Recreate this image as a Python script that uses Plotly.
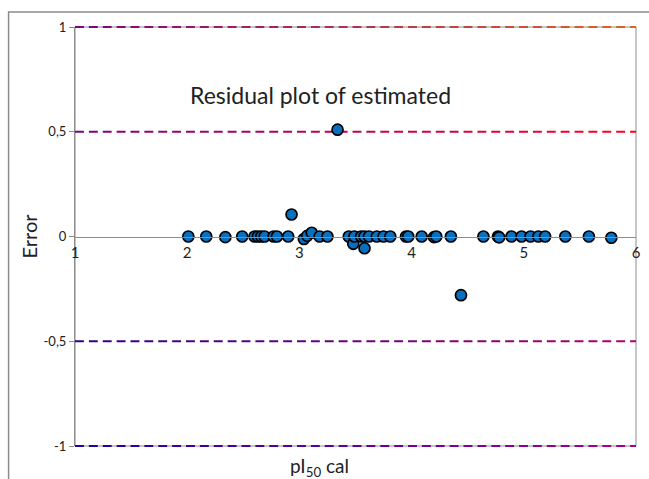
import numpy as np
import plotly.graph_objects as go

# pI50 calculated values and residual errors
pi50_cal = [2.01, 2.17, 2.34, 2.49, 2.60, 2.63, 2.66, 2.69, 2.77, 2.80,
            2.90, 2.93, 3.04, 3.07, 3.11, 3.18, 3.25, 3.34, 3.44, 3.48,
            3.49, 3.55, 3.58, 3.58, 3.62, 3.69, 3.75, 3.81, 3.95, 3.97,
            4.09, 4.20, 4.22, 4.35, 4.44, 4.64, 4.77, 4.78, 4.89, 4.98,
            5.06, 5.13, 5.19, 5.37, 5.58, 5.78]
error = [0.000, 0.000, -0.003, 0.000, 0.000, 0.000, 0.000, 0.000, 0.000, 0.000,
         0.000, 0.105, -0.012, 0.003, 0.018, 0.000, 0.000, 0.510, 0.000, -0.035,
         0.000, 0.000, 0.000, -0.056, 0.000, 0.000, 0.000, 0.000, 0.000, 0.000,
         0.000, -0.003, 0.000, 0.000, -0.280, 0.000, 0.000, -0.004, 0.000, 0.000,
         0.000, 0.000, 0.000, 0.000, 0.000, -0.006]

x_ticks = [1, 2, 3, 4, 5, 6]
y_ticks = [1, 0.5, 0, -0.5, -1]
y_tick_text = ["1", "0,5", "0", "-0,5", "-1"]

# Limit lines with their left/right colour ends
limit_levels = [1, 0.5, -0.5, -1]
limit_colors = [((128, 0, 128), (225, 100, 30)),
                ((128, 0, 128), (255, 0, 30)),
                ((45, 0, 140), (175, 0, 110)),
                ((30, 0, 160), (165, 0, 140))]

X_RANGE = [1, 6]
Y_RANGE = [-1, 1]
W, H = 649, 479
M_L, M_R, M_T, M_B = 75, 8, 27, 33
PLOT_W = W - M_L - M_R
PLOT_H = H - M_T - M_B
DASH_PX, GAP_PX = 9, 5

fig = go.Figure()

fig.add_trace(go.Scatter(
    x=pi50_cal, y=error, mode="markers",
    marker=dict(size=11, color="#0870c0", line=dict(color="#000000", width=1.7)),
    showlegend=False, hoverinfo="x+y",
))

shapes = []
# Plot area frame (drawn first so the limit lines sit on top of it)
shapes.append(dict(type="rect", xref="paper", yref="paper", x0=0, x1=1, y0=0, y1=1,
                   layer="below", line=dict(color="#8c8c8c", width=1)))

# Gradient dashed limit lines, one shape per dash; vertical position in paper
# units so the lines on the frame edges are not clipped
units_per_px = (X_RANGE[1] - X_RANGE[0]) / PLOT_W
dash_len = DASH_PX * units_per_px
step = (DASH_PX + GAP_PX) * units_per_px
for level, (c0, c1) in zip(limit_levels, limit_colors):
    yp = (level - Y_RANGE[0]) / (Y_RANGE[1] - Y_RANGE[0])
    for s in np.arange(X_RANGE[0], X_RANGE[1], step):
        e = min(s + dash_len, X_RANGE[1])
        t = ((s + e) / 2 - X_RANGE[0]) / (X_RANGE[1] - X_RANGE[0])
        col = tuple(int(round(a + (b - a) * t)) for a, b in zip(c0, c1))
        shapes.append(dict(type="line", xref="x", yref="paper", x0=s, x1=e,
                           y0=yp, y1=yp, layer="below",
                           line=dict(color="rgb(%d,%d,%d)" % col, width=2)))

# Outer chart frame (left and top edges)
ox = (8 - M_L) / PLOT_W
oy = (M_T + PLOT_H - 12) / PLOT_H
shapes.append(dict(type="path", xref="paper", yref="paper",
                   path="M %f %f L %f %f L %f %f" % (ox, -0.2, ox, oy, 1.2, oy),
                   line=dict(color="#8c8c8c", width=1.5)))

fig.update_layout(
    width=W, height=H,
    margin=dict(l=M_L, r=M_R, t=M_T, b=M_B),
    paper_bgcolor="white", plot_bgcolor="white",
    font=dict(family="Lato, 'Open Sans', sans-serif", color="#222222"),
    shapes=shapes,
    xaxis=dict(range=X_RANGE, anchor="free", position=0.5,
               showline=True, linecolor="#8c8c8c", linewidth=1,
               showgrid=False, zeroline=False, ticks="",
               tickvals=x_ticks, ticktext=[str(v) for v in x_ticks],
               ticklabelstandoff=2,
               tickfont=dict(size=15, color="#222222")),
    yaxis=dict(range=Y_RANGE, domain=[0, 1], showline=True, linecolor="#8c8c8c",
               linewidth=1, showgrid=False, zeroline=False,
               ticks="outside", ticklen=5, tickcolor="#8c8c8c",
               tickvals=y_ticks, ticktext=y_tick_text,
               tickfont=dict(size=13, color="#222222"),
               title=dict(text="Error", font=dict(size=20, color="#222222"),
                          standoff=0)),
    annotations=[
        dict(text="Residual plot of estimated", xref="paper", yref="paper",
             x=(323 - M_L) / PLOT_W, y=(M_T + PLOT_H - 95) / PLOT_H,
             xanchor="center", yanchor="middle",
             showarrow=False, font=dict(size=23, color="#222222")),
        dict(text="pI<sub>50</sub> cal", xref="paper", yref="paper",
             x=(322 - M_L) / PLOT_W, y=(M_T + PLOT_H - 467) / PLOT_H,
             xanchor="center", yanchor="middle",
             showarrow=False, font=dict(size=19, color="#222222")),
    ],
)

fig.write_html("out.html")
